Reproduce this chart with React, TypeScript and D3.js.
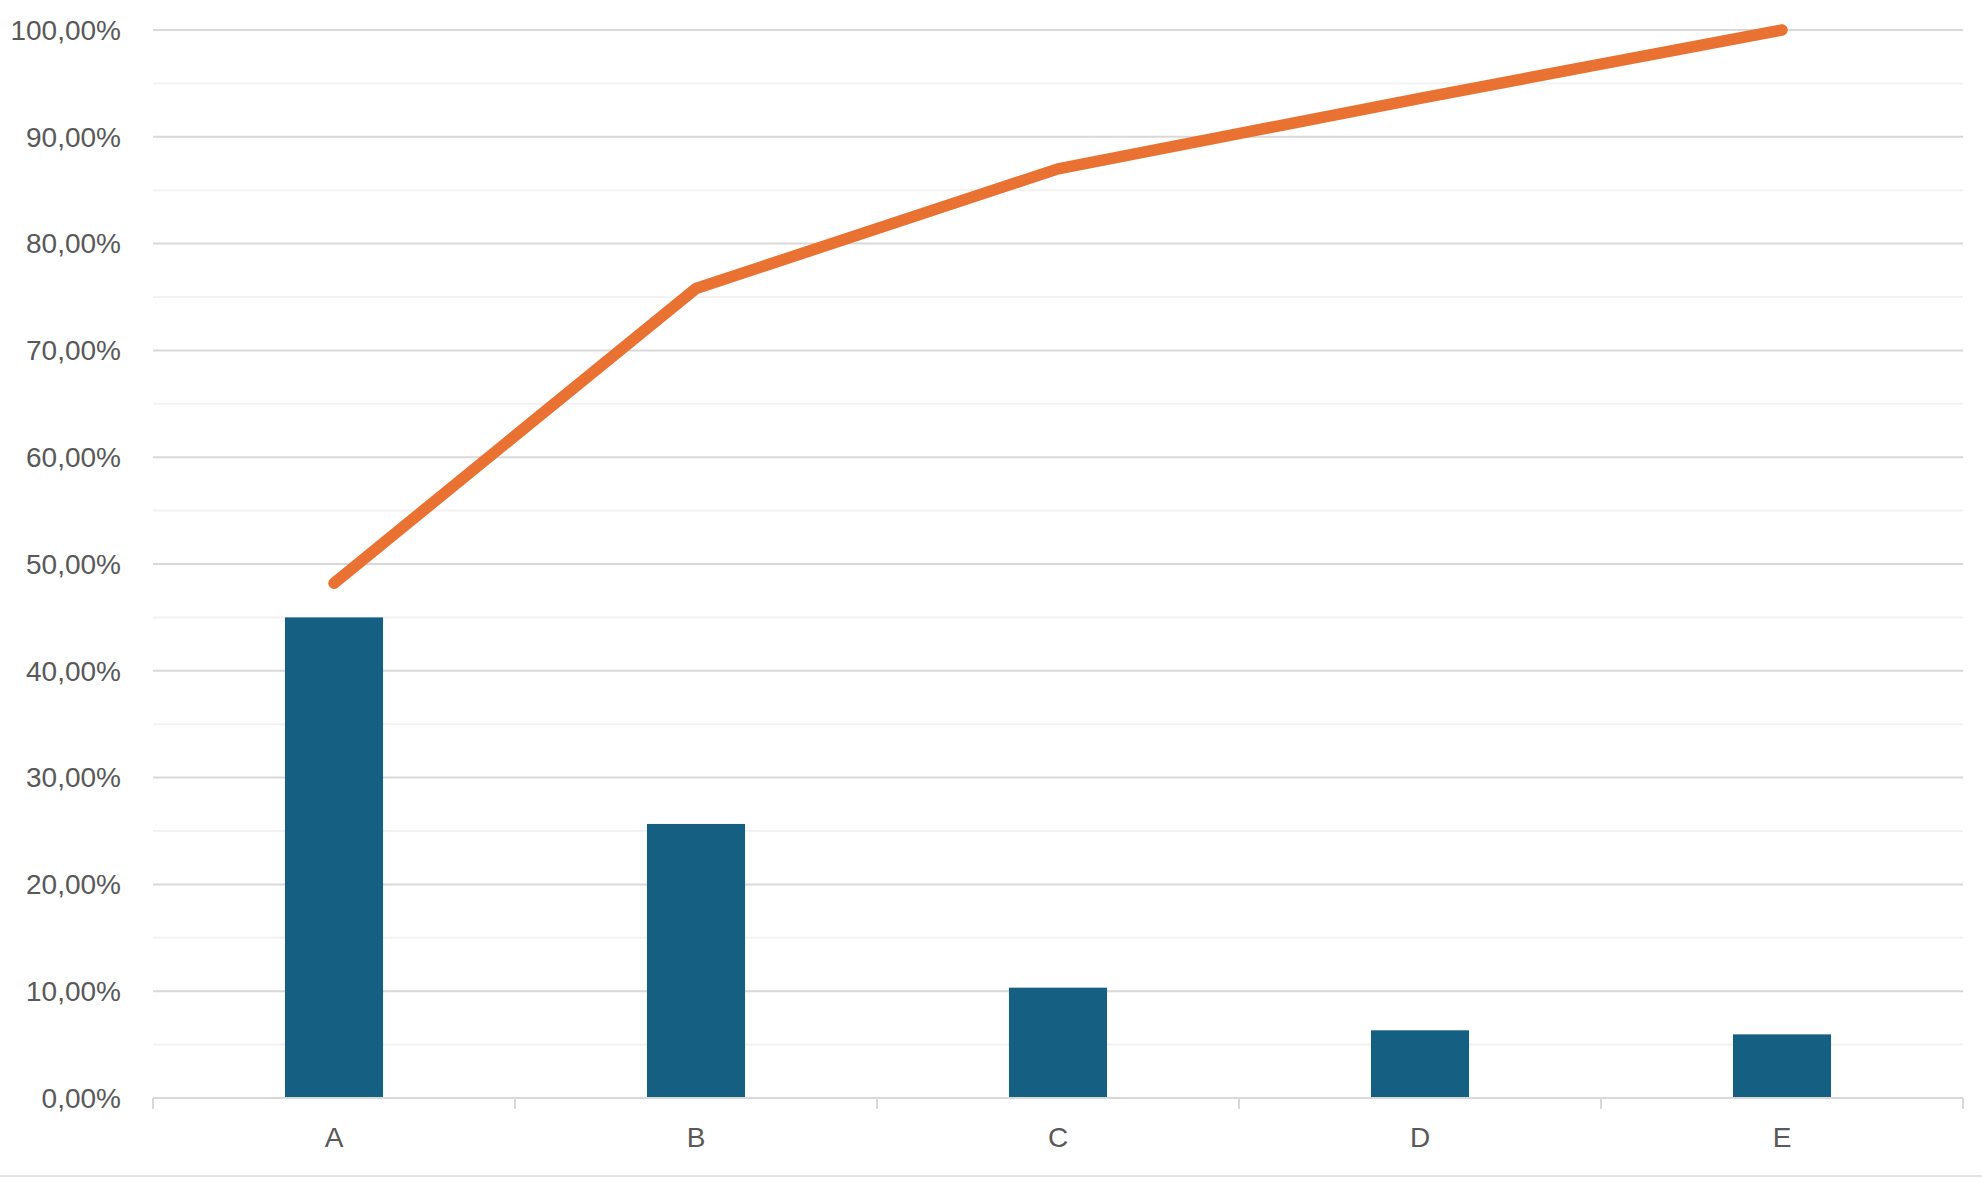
import { useMemo } from "react"
import * as d3 from "d3"

const categories = ["A", "B", "C", "D", "E"]
const shares = [0.45, 0.2566, 0.1033, 0.0634, 0.0596]
const cumulative = [0.482, 0.758, 0.87, 0.936, 1.0]
const majorTicks = [0, 0.1, 0.2, 0.3, 0.4, 0.5, 0.6, 0.7, 0.8, 0.9, 1.0]
const minorTicks = [0.05, 0.15, 0.25, 0.35, 0.45, 0.55, 0.65, 0.75, 0.85, 0.95]

const W = 1982, H = 1178
const FONT = "'Liberation Sans', Arial, sans-serif"

const locale = d3.formatLocale({ decimal: ",", thousands: ".", grouping: [3], currency: ["", "€"] })
const pct = locale.format(".2%")

export default function App() {
  const x = useMemo(() => d3.scaleBand<string>().domain(categories).range([153, 1963]).paddingInner(0).paddingOuter(0), [])
  const y = useMemo(() => d3.scaleLinear().domain([0, 1]).range([1098, 30]), [])
  const barW = x.bandwidth() * 0.271
  const cx = (c: string) => (x(c) ?? 0) + x.bandwidth() / 2

  const line = d3.line<number>()
    .x((_, i) => cx(categories[i]))
    .y(d => y(d))

  const edges = [...categories.map(c => x(c) ?? 0), x.range()[1]]

  return (
    <div style={{ position: "fixed", left: 0, top: 0 }}>
      <svg width={W} height={H} viewBox={`0 0 ${W} ${H}`} style={{ display: "block", background: "#fff" }}>
        {minorTicks.map(t => (
          <line key={"m" + t} x1={153} x2={1963} y1={y(t)} y2={y(t)} stroke="#f2f2f2" strokeWidth={2} />
        ))}
        {majorTicks.map(t => (
          <line key={"g" + t} x1={153} x2={1963} y1={y(t)} y2={y(t)} stroke="#d9d9d9" strokeWidth={2} />
        ))}
        {majorTicks.map(t => (
          <text key={"l" + t} x={121} y={y(t)} dy="0.35em" textAnchor="end"
            fontFamily={FONT} fontSize={28} fill="#595959">{pct(t)}</text>
        ))}

        {categories.map((c, i) => (
          <rect key={c} x={cx(c) - barW / 2} y={y(shares[i])} width={barW}
            height={y(0) - y(shares[i])} fill="#156082" />
        ))}

        <line x1={153} x2={1963} y1={y(0)} y2={y(0)} stroke="#d9d9d9" strokeWidth={2} />
        {edges.map((e, i) => (
          <line key={"t" + i} x1={e} x2={e} y1={y(0)} y2={y(0) + 11} stroke="#d9d9d9" strokeWidth={2} />
        ))}
        {categories.map(c => (
          <text key={"x" + c} x={cx(c)} y={1137} dy="0.35em" textAnchor="middle"
            fontFamily={FONT} fontSize={28} fill="#595959">{c}</text>
        ))}

        <path d={line(cumulative) || ""} fill="none" stroke="#E97132" strokeWidth={11.5}
          strokeLinecap="round" strokeLinejoin="round" />

        <line x1={0} x2={W} y1={1176} y2={1176} stroke="#e3e3e3" strokeWidth={2} />
      </svg>
    </div>
  )
}
